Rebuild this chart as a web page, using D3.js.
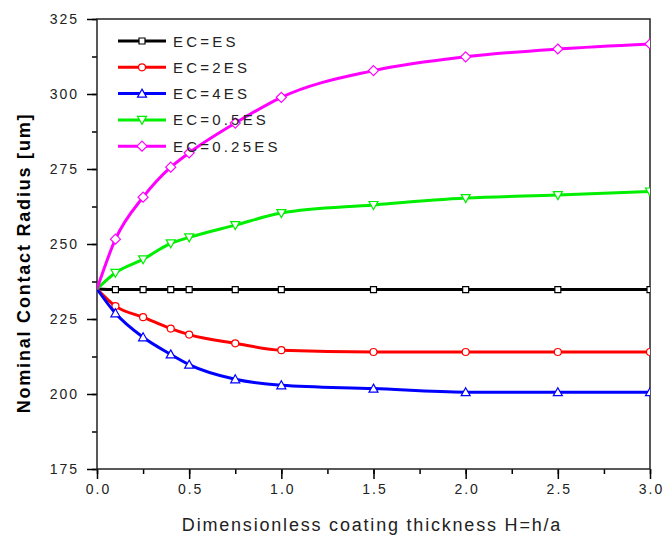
<!DOCTYPE html>
<html>
<head>
<meta charset="utf-8">
<script src="https://cdn.jsdelivr.net/npm/d3@7"></script>
<style>
  body { margin: 0; background: #fff; }
  text { font-family: Arial, "Liberation Sans", sans-serif; }
</style>
</head>
<body>
<div id="chart"></div>
<script>
// thickness values where the points sit
var thickness = [0, 0.1, 0.25, 0.4, 0.5, 0.75, 1.0, 1.5, 2.0, 2.5, 3.0];

var ecEs    = [235, 234.8, 234.8, 234.8, 234.8, 234.8, 234.8, 234.8, 234.8, 234.8, 234.8];
var ec2Es   = [235, 229.3, 225.6, 221.8, 219.8, 216.9, 214.6, 214.0, 214.0, 214.0, 214.0];
var ec4Es   = [235, 226.9, 218.9, 213.2, 209.8, 204.9, 202.9, 201.8, 200.6, 200.6, 200.6];
var ec05Es  = [235, 240.4, 244.9, 250.2, 252.2, 256.3, 260.3, 263.0, 265.3, 266.3, 267.5];
var ec025Es = [235, 251.6, 265.6, 275.6, 280.4, 290.3, 298.9, 307.8, 312.4, 315.0, 316.7];

var seriesNames = ["EC=ES", "EC=2ES", "EC=4ES", "EC=0.5ES", "EC=0.25ES"];
var seriesValues = [ecEs, ec2Es, ec4Es, ec05Es, ec025Es];
var seriesColors = ["#000000", "#ff0000", "#0000ff", "#00ee00", "#ff00ff"];
var seriesSymbols = ["square", "circle", "up", "down", "diamond"];

var xTicks = [0, 0.5, 1.0, 1.5, 2.0, 2.5, 3.0];
var yTicks = [175, 200, 225, 250, 275, 300, 325];

var margin = { left: 97, right: 13, top: 19, bottom: 75 };
var W = 663, H = 544;
var width = W - margin.left - margin.right;
var height = H - margin.top - margin.bottom;

var svg = d3.select("#chart").append("svg")
    .attr("width", W)
    .attr("height", H);

svg.append("clipPath").attr("id", "plotclip")
  .append("rect").attr("width", width).attr("height", height);

var g = svg.append("g")
    .attr("transform", "translate(" + margin.left + "," + margin.top + ")");

var x = d3.scaleLinear().domain([0, 3]).range([0, width]);
var y = d3.scaleLinear().domain([175, 325]).range([height, 0]);

// minor ticks
var xMinor = d3.range(0, 3.01, 0.25);
var yMinor = d3.range(175, 325.1, 12.5);

g.append("g")
    .attr("transform", "translate(0," + height + ")")
    .call(d3.axisBottom(x).tickValues(xMinor).tickSize(5).tickFormat(""))
    .call(function(a) { a.select(".domain").remove(); });
g.append("g")
    .call(d3.axisLeft(y).tickValues(yMinor).tickSize(5).tickFormat(""))
    .call(function(a) { a.select(".domain").remove(); });

var xAxis = g.append("g")
    .attr("transform", "translate(0," + height + ")")
    .call(d3.axisBottom(x).tickValues(xTicks).tickSize(10).tickPadding(5)
        .tickFormat(d3.format(".1f")));
var yAxis = g.append("g")
    .call(d3.axisLeft(y).tickValues(yTicks).tickSize(10).tickPadding(8));

[xAxis, yAxis].forEach(function(a) {
  a.selectAll("text").attr("font-size", "14px").attr("fill", "#222")
      .attr("letter-spacing", "2px")
      .attr("font-family", "Arial, 'Liberation Sans', sans-serif");
  a.select(".domain").remove();
});
xAxis.selectAll("text").attr("dx", "1px");
g.selectAll(".tick line").attr("stroke", "#000").attr("stroke-width", 1.5);

// frame
g.append("rect")
    .attr("width", width).attr("height", height)
    .attr("fill", "none").attr("stroke", "#222").attr("stroke-width", 1.5);

var line = d3.line()
    .x(function(d, i) { return x(thickness[i]); })
    .y(function(d) { return y(d); })
    .curve(d3.curveMonotoneX);

function symbolPath(kind) {
  if (kind == "square") return "M-3,-3h6v6h-6z";
  if (kind == "circle") return "M-3.5,0a3.5,3.5 0 1,0 7,0a3.5,3.5 0 1,0 -7,0";
  if (kind == "up") return "M0,-4.5L4.5,3.5L-4.5,3.5Z";
  if (kind == "down") return "M0,4.5L4.5,-3.5L-4.5,-3.5Z";
  return "M0,-5L5,0L0,5L-5,0Z";
}

var plot = g.append("g").attr("clip-path", "url(#plotclip)");

seriesValues.forEach(function(vals, k) {
  plot.append("path")
      .datum(vals)
      .attr("d", line)
      .attr("fill", "none")
      .attr("stroke", seriesColors[k])
      .attr("stroke-width", 3);

  plot.selectAll(".pt" + k)
      .data(vals.slice(1))
    .enter().append("path")
      .attr("class", "pt" + k)
      .attr("transform", function(d, i) { return "translate(" + x(thickness[i + 1]) + "," + y(d) + ")"; })
      .attr("d", symbolPath(seriesSymbols[k]))
      .attr("fill", "#fff")
      .attr("stroke", seriesColors[k])
      .attr("stroke-width", 1.2);
});

// legend
var legend = svg.append("g").attr("transform", "translate(118,41)");
seriesNames.forEach(function(name, i) {
  var row = legend.append("g").attr("transform", "translate(0," + (i * 26.3) + ")");
  row.append("line").attr("x1", 0).attr("x2", 48).attr("y1", 0).attr("y2", 0)
      .attr("stroke", seriesColors[i]).attr("stroke-width", 3);
  row.append("path")
      .attr("transform", "translate(24,0)")
      .attr("d", symbolPath(seriesSymbols[i]))
      .attr("fill", "#fff")
      .attr("stroke", seriesColors[i])
      .attr("stroke-width", 1.2);
  row.append("text")
      .attr("x", 55).attr("y", 5.5)
      .attr("font-size", "15px")
      .attr("fill", "#222")
      .attr("letter-spacing", "3.2px")
      .text(name);
});

// axis titles
svg.append("text")
    .attr("transform", "translate(30,263) rotate(-90)")
    .attr("text-anchor", "middle")
    .attr("font-size", "18px")
    .attr("font-weight", "bold")
    .attr("letter-spacing", "1.8px")
    .text("Nominal Contact Radius [um]");

svg.append("text")
    .attr("x", 372)
    .attr("y", 531)
    .attr("text-anchor", "middle")
    .attr("font-size", "18px")
    .attr("fill", "#222")
    .attr("letter-spacing", "1.8px")
    .text("Dimensionless coating thickness H=h/a");
</script>
</body>
</html>
